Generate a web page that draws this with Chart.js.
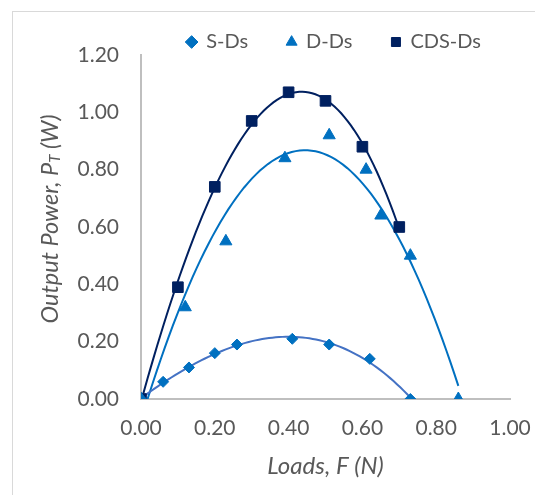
<!DOCTYPE html>
<html>
<head>
<meta charset="utf-8">
<title>Output power vs load</title>
<script src="https://cdn.jsdelivr.net/npm/chart.js@4.4.1/dist/chart.umd.min.js"></script>
<style>
  html, body { margin: 0; padding: 0; background: #fff; overflow: hidden; }
  #wrap { position: relative; width: 535px; height: 495px; overflow: hidden; }
  #frame { position: absolute; left: 12px; top: 11px; width: 600px; height: 600px; border: 1px solid #d9d9d9; }
  #chart { position: absolute; left: 0; top: 0; }
</style>
</head>
<body>
<div id="wrap">
  <div id="frame"></div>
  <canvas id="chart" width="535" height="495"></canvas>
</div>
<script>
// measured points: load F (N) against output power P_T (W)
const sdsLoad  = [0, 0.06, 0.13, 0.20, 0.26, 0.41, 0.51, 0.62, 0.73];
const sdsPower = [0, 0.06, 0.11, 0.16, 0.19, 0.21, 0.19, 0.14, 0];
const ddsLoad  = [0, 0.12, 0.23, 0.39, 0.51, 0.61, 0.65, 0.73, 0.86];
const ddsPower = [0, 0.32, 0.55, 0.84, 0.92, 0.80, 0.64, 0.50, 0];
const cdsLoad  = [0, 0.10, 0.20, 0.30, 0.40, 0.50, 0.60, 0.70];
const cdsPower = [0, 0.39, 0.74, 0.97, 1.07, 1.04, 0.88, 0.60];

const seriesNames = ['S-Ds', 'D-Ds', 'CDS-Ds'];
const trendOrder  = [3, 2, 3];   // polynomial degree of each trendline

const FONT = 'Lato';
const TEXT = '#595959';
const AXIS = '#bfbfbf';

// least squares polynomial fit, returns coefficients c0..cn
function polyFit(xs, ys, order) {
  const n = order + 1;
  const A = Array.from({ length: n }, () => new Array(n + 1).fill(0));
  for (let k = 0; k < xs.length; k++) {
    for (let i = 0; i < n; i++) {
      for (let j = 0; j < n; j++) A[i][j] += Math.pow(xs[k], i + j);
      A[i][n] += ys[k] * Math.pow(xs[k], i);
    }
  }
  for (let c = 0; c < n; c++) {
    let p = c;
    for (let r = c + 1; r < n; r++) if (Math.abs(A[r][c]) > Math.abs(A[p][c])) p = r;
    [A[c], A[p]] = [A[p], A[c]];
    for (let r = 0; r < n; r++) {
      if (r === c) continue;
      const f = A[r][c] / A[c][c];
      for (let j = c; j <= n; j++) A[r][j] -= f * A[c][j];
    }
  }
  return A.map((row, i) => row[n] / row[i]);
}

// trendline over the measured load range
function trend(xs, ys, order) {
  const coef = polyFit(xs, ys, order);
  const lo = Math.min(...xs), hi = Math.max(...xs);
  const pts = [];
  for (let i = 0; i <= 80; i++) {
    const x = lo + (hi - lo) * i / 80;
    pts.push({ x, y: coef.reduce((s, c, k) => s + c * Math.pow(x, k), 0) });
  }
  return pts;
}

const toXY = (xs, ys) => xs.map((x, i) => ({ x, y: ys[i] }));

function markers(label, xs, ys, style, color, radius) {
  return {
    label, data: toXY(xs, ys), pointStyle: style, pointRadius: radius, pointHoverRadius: radius,
    backgroundColor: color, borderColor: color, borderWidth: 1, showLine: false
  };
}
function trendLine(xs, ys, order, color) {
  return {
    label: 'trend', data: trend(xs, ys, order), showLine: true, pointRadius: 0,
    borderColor: color, borderWidth: 2, fill: false, tension: 0
  };
}

// y title with subscript T, drawn rotated left of the axis
const yTitle = {
  id: 'yTitle',
  afterDraw(chart) {
    const ctx = chart.ctx;
    const parts = [['Output Power, P', 23.5, 0], ['T', 15, 5], [' (W)', 23.5, 0]];
    ctx.save();
    ctx.translate(50, 219);
    ctx.rotate(-Math.PI / 2);
    ctx.fillStyle = TEXT;
    ctx.textBaseline = 'middle';
    let total = 0;
    for (const [t, s] of parts) { ctx.font = `italic ${s}px ${FONT}`; total += ctx.measureText(t).width; }
    let x = -total / 2;
    for (const [t, s, dy] of parts) {
      ctx.font = `italic ${s}px ${FONT}`;
      ctx.fillText(t, x, dy);
      x += ctx.measureText(t).width;
    }
    ctx.restore();
  }
};

new Chart(document.getElementById('chart'), {
  type: 'scatter',
  data: {
    datasets: [
      markers(seriesNames[0], sdsLoad, sdsPower, 'rectRot', '#0070c0', 5.5),
      markers(seriesNames[1], ddsLoad, ddsPower, 'triangle', '#0070c0', 7),
      markers(seriesNames[2], cdsLoad, cdsPower, 'rect', '#002060', 7.5),
      trendLine(sdsLoad, sdsPower, trendOrder[0], '#4472c4'),
      trendLine(ddsLoad, ddsPower, trendOrder[1], '#0070c0'),
      trendLine(cdsLoad, cdsPower, trendOrder[2], '#002060')
    ]
  },
  options: {
    responsive: false,
    animation: false,
    layout: { padding: { top: -7, left: 0, right: 15, bottom: 0 } },
    plugins: {
      tooltip: { enabled: false },
      legend: {
        position: 'top',
        align: 'end',
        maxHeight: 62,
        labels: {
          usePointStyle: true, boxWidth: 9, boxHeight: 9, padding: 39,
          color: TEXT, font: { family: FONT, size: 20 },
          filter: item => item.datasetIndex < 3
        }
      }
    },
    scales: {
      x: {
        type: 'linear', min: 0, max: 1,
        grid: { display: false, drawTicks: false },
        border: { display: true, color: AXIS, width: 2 },
        ticks: { stepSize: 0.2, padding: 17, color: TEXT, font: { family: FONT, size: 21 }, callback: v => v.toFixed(2) },
        title: { display: true, text: 'Loads, F (N)', color: TEXT, font: { family: FONT, size: 24, style: 'italic' }, padding: { top: 0, bottom: 14 } },
        afterFit: s => { s.height = 96; s.paddingRight = 25; }
      },
      y: {
        type: 'linear', min: 0, max: 1.2,
        grid: { display: false, drawTicks: false },
        border: { display: true, color: AXIS, width: 2 },
        ticks: { stepSize: 0.2, padding: 22, color: TEXT, font: { family: FONT, size: 21 }, callback: v => v.toFixed(2) },
        afterFit: s => { s.width = 141; }
      }
    }
  },
  plugins: [yTitle]
});
</script>
</body>
</html>
